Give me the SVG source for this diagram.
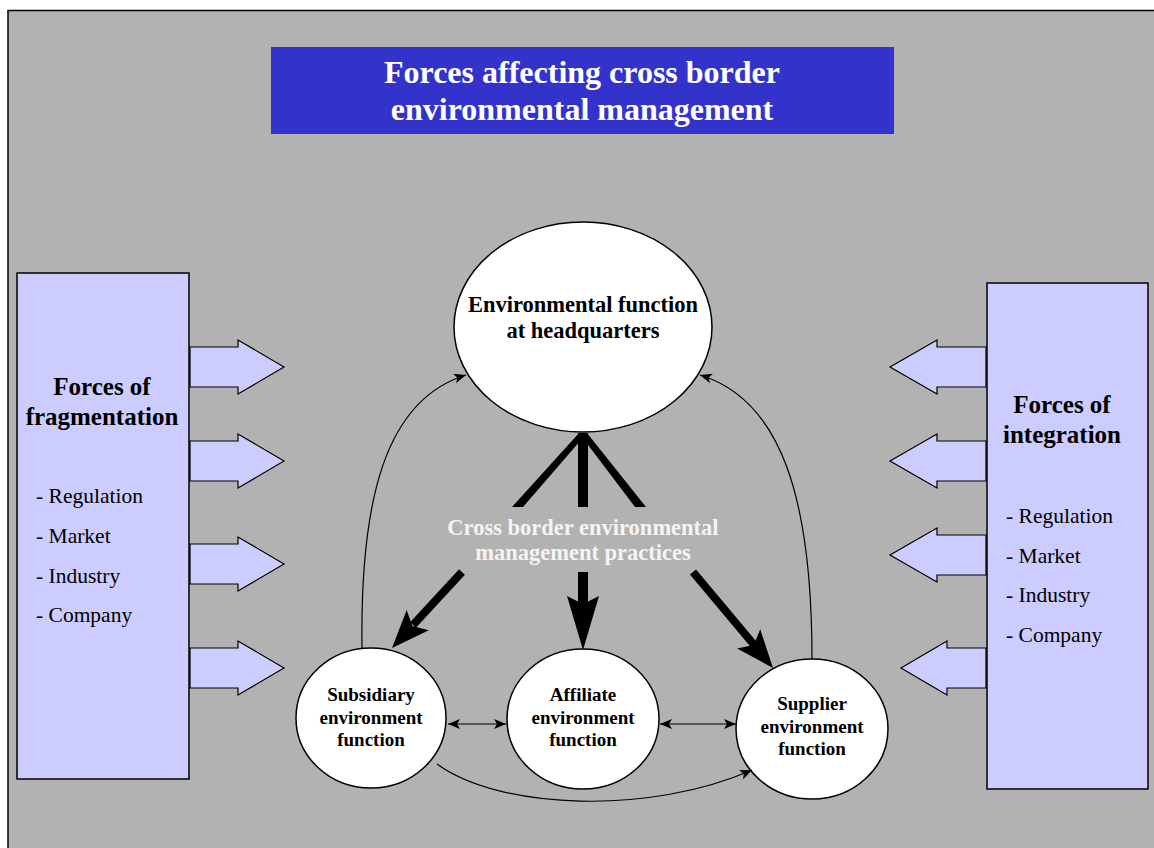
<svg xmlns="http://www.w3.org/2000/svg" width="1154" height="848" viewBox="0 0 1154 848">
<style>
.t{font-family:"Liberation Serif","Times New Roman",serif;}
.b{font-weight:bold;}
.box{fill:#ccccff;stroke:#000;stroke-width:1.5;}
.blk{fill:#ccccff;stroke:#000;stroke-width:1.2;}
.ell{fill:#fff;stroke:#000;stroke-width:1.5;}
.thin{fill:none;stroke:#000;stroke-width:1.2;}
</style>
<defs>
<marker id="ah" markerWidth="14" markerHeight="12" refX="12" refY="5" orient="auto" markerUnits="userSpaceOnUse">
<path d="M0,0 L12,5 L0,10 L3,5 z" fill="#000"/>
</marker>
<marker id="ahs" markerWidth="14" markerHeight="12" refX="12" refY="5" orient="auto-start-reverse" markerUnits="userSpaceOnUse">
<path d="M0,0 L12,5 L0,10 L3,5 z" fill="#000"/>
</marker>
</defs>
<rect x="0" y="0" width="1154" height="848" fill="#fff"/>
<rect x="8" y="10.5" width="1150" height="842" fill="#b2b2b2" stroke="#000" stroke-width="1.5"/>

<g id="title">
<rect x="271" y="47" width="623" height="87" fill="#3333cc"/>
<text class="t b" x="582" y="83" font-size="32" fill="#fff" text-anchor="middle">Forces affecting cross border</text>
<text class="t b" x="582" y="120" font-size="32" fill="#fff" text-anchor="middle">environmental management</text>
</g>

<g id="fragmentation">
<rect class="box" x="17" y="273" width="172" height="506"/>
<text class="t b" x="102" y="395" font-size="25" text-anchor="middle">Forces of</text>
<text class="t b" x="102" y="425" font-size="25" text-anchor="middle">fragmentation</text>
<text class="t" x="36" y="503" font-size="21.5">- Regulation</text>
<text class="t" x="36" y="543" font-size="21.5">- Market</text>
<text class="t" x="36" y="583" font-size="21.5">- Industry</text>
<text class="t" x="36" y="622" font-size="21.5">- Company</text>
</g>

<g id="integration">
<rect class="box" x="987" y="283" width="161" height="506"/>
<text class="t b" x="1062" y="413" font-size="25" text-anchor="middle">Forces of</text>
<text class="t b" x="1062" y="443" font-size="25" text-anchor="middle">integration</text>
<text class="t" x="1006" y="523" font-size="21.5">- Regulation</text>
<text class="t" x="1006" y="563" font-size="21.5">- Market</text>
<text class="t" x="1006" y="602" font-size="21.5">- Industry</text>
<text class="t" x="1006" y="642" font-size="21.5">- Company</text>
</g>

<g id="left-block-arrows">
<polygon class="blk" points="190,347 238,347 238,340 284,367 238,394 238,387 190,387"/>
<polygon class="blk" points="190,441 238,441 238,434 284,461 238,488 238,481 190,481"/>
<polygon class="blk" points="190,544 238,544 238,537 284,564 238,591 238,584 190,584"/>
<polygon class="blk" points="190,648 238,648 238,641 284,668 238,695 238,688 190,688"/>
</g>

<g id="right-block-arrows">
<polygon class="blk" points="986,347 937,347 937,340 890,367 937,394 937,387 986,387"/>
<polygon class="blk" points="986,441 937,441 937,434 890,461 937,488 937,481 986,481"/>
<polygon class="blk" points="986,535 937,535 937,528 890,555 937,582 937,575 986,575"/>
<polygon class="blk" points="986,648 947,648 947,641 901,668 947,695 947,688 986,688"/>
</g>

<g id="hq">
<ellipse class="ell" cx="583" cy="327" rx="129" ry="105"/>
<text class="t b" x="583" y="312" font-size="22.5" text-anchor="middle">Environmental function</text>
<text class="t b" x="583" y="338" font-size="22.5" text-anchor="middle">at headquarters</text>
</g>

<g id="subsidiary">
<ellipse class="ell" cx="371" cy="718" rx="75" ry="70"/>
<text class="t b" x="371" y="701" font-size="19" text-anchor="middle">Subsidiary</text>
<text class="t b" x="371" y="724" font-size="19" text-anchor="middle">environment</text>
<text class="t b" x="371" y="746" font-size="19" text-anchor="middle">function</text>
</g>

<g id="affiliate">
<ellipse class="ell" cx="583" cy="719" rx="76" ry="70"/>
<text class="t b" x="583" y="701" font-size="19" text-anchor="middle">Affiliate</text>
<text class="t b" x="583" y="724" font-size="19" text-anchor="middle">environment</text>
<text class="t b" x="583" y="746" font-size="19" text-anchor="middle">function</text>
</g>

<g id="supplier">
<ellipse class="ell" cx="812" cy="729" rx="76" ry="70"/>
<text class="t b" x="812" y="710" font-size="19" text-anchor="middle">Supplier</text>
<text class="t b" x="812" y="733" font-size="19" text-anchor="middle">environment</text>
<text class="t b" x="812" y="755" font-size="19" text-anchor="middle">function</text>
</g>

<g id="practices">
<text class="t b" x="583" y="535" font-size="22.5" fill="#f4f4f4" text-anchor="middle">Cross border environmental</text>
<text class="t b" x="583" y="560" font-size="22.5" fill="#f4f4f4" text-anchor="middle">management practices</text>
</g>

<g id="connectors">
<polygon points="512,507 523,507 587,433 579,433" fill="#000"/>
<rect x="578" y="433" width="10" height="74" fill="#000"/>
<polygon points="635,507 646,507 587,433 579,433" fill="#000"/>
<line x1="462" y1="572" x2="413" y2="625" stroke="#000" stroke-width="8"/>
<polygon points="392,648 406.7,609.9 412.3,625.9 428.8,630.2" fill="#000"/>
<rect x="578" y="572" width="10" height="32" fill="#000"/>
<polygon points="583,650 567,596 583,604 599,596" fill="#000"/>
<line x1="693" y1="572" x2="755" y2="646" stroke="#000" stroke-width="8"/>
<polygon points="773,668 737.1,648.4 753.8,645 760.2,629.2" fill="#000"/>
<path class="thin" d="M362,648 C360,500 385,400 466,375" marker-end="url(#ah)"/>
<path class="thin" d="M812,659 C812,500 782,400 700,375" marker-end="url(#ah)"/>
<path class="thin" d="M437,764 C500,810 650,815 752,770" marker-end="url(#ah)"/>
<line class="thin" x1="448" y1="724" x2="506" y2="724" marker-start="url(#ahs)" marker-end="url(#ahs)"/>
<line class="thin" x1="660" y1="724" x2="736" y2="724" marker-start="url(#ahs)" marker-end="url(#ahs)"/>
</g>
</svg>
